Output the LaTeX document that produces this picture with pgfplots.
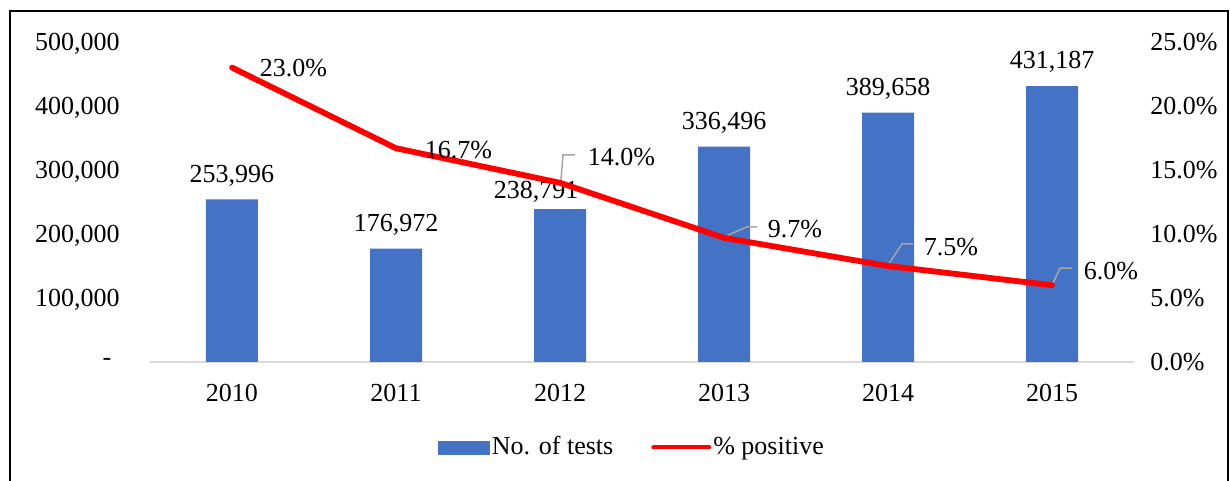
\documentclass[border=0pt]{standalone}
\usepackage{pgfplots}
\pgfplotsset{compat=1.18}
\usepackage{pgfplotstable}
\usepackage{fontspec}
\setmainfont{Liberation Serif}

\definecolor{barblue}{HTML}{4472C4}
\definecolor{axisgray}{HTML}{D9D9D9}
\definecolor{leadergray}{HTML}{A6A6A6}

% tests per year, label shifts in pt
\pgfplotstableread{
x tests lx ly
0 253996 0 8.7
1 176972 0 8.7
2 238791 -12 5.5
3 336496 0 8.7
4 389658 0 8.7
5 431187 0 8.7
}\tests

% percent positive, label shifts in pt
\pgfplotstableread{
x pos lx ly
0 23.0 12.5 0
1 16.7 13 -1
2 14.0 12.5 13
3 9.7 20.5 4.5
4 7.5 16.5 9.5
5 6.0 14.5 7
}\positive

\begin{document}
\fontsize{13}{15}\selectfont
\begin{tikzpicture}
\useasboundingbox (-75pt,-59.5pt) rectangle (540pt,181pt);
\draw[line width=0.75pt] (-70pt,-60pt) -- (-70pt,175.5pt) -- (539pt,175.5pt) -- (539pt,-60pt);

\begin{axis}[
    scale only axis,
    width=492pt, height=160pt,
    xmin=-0.5, xmax=5.5,
    ymin=0, ymax=500000,
    axis lines*=left,
    x axis line style={axisgray, line width=0.75pt},
    y axis line style={draw=none},
    tick style={draw=none}, major tick length=0pt,
    xtick={0,...,5},
    xticklabels={2010,2011,2012,2013,2014,2015},
    ytick={0,100000,200000,300000,400000,500000},
    yticklabels={\makebox[8.5pt][l]{-},{100,000},{200,000},{300,000},{400,000},{500,000}},
    scaled y ticks=false,
    xticklabel style={anchor=north, inner sep=0pt, yshift=-11pt},
    yticklabel style={anchor=east, inner sep=0pt, text depth=0pt, xshift=-15pt},
    clip=false,
]
\addplot[ybar, bar width=26pt, fill=barblue, draw=none,
    nodes near coords={\pgfmathprintnumber[fixed,precision=0,1000 sep={,},assume math mode=true]{\pgfplotspointmeta}},
    visualization depends on={\thisrow{lx} \as \lx},
    visualization depends on={\thisrow{ly} \as \ly},
    nodes near coords style={anchor=base, xshift=\lx pt, yshift=\ly pt, black},
] table[x=x, y=tests] {\tests};
\end{axis}

\begin{axis}[
    scale only axis,
    width=492pt, height=160pt,
    xmin=-0.5, xmax=5.5,
    ymin=0, ymax=25,
    axis x line=none,
    axis y line*=right,
    y axis line style={draw=none},
    tick style={draw=none}, major tick length=0pt,
    ytick={0,5,10,15,20,25},
    yticklabels={0.0\%,5.0\%,10.0\%,15.0\%,20.0\%,25.0\%},
    yticklabel style={anchor=west, inner sep=0pt, text depth=0pt, xshift=8pt},
    clip=false,
    legend columns=2,
    legend cell align=left,
    legend style={at={(0.4888,-0.267)}, anchor=center, draw=none, fill=none,
        inner sep=0pt, nodes={inner sep=0pt},
        /tikz/every odd column/.append style={column sep=1pt},
        /tikz/every even column/.append style={column sep=19pt}},
]
\addlegendimage{legend image code/.code={\fill[barblue] (0pt,-3.25pt) rectangle (25.5pt,3.25pt);}}
\addlegendentry{No. of tests}

% leader lines
\draw[leadergray, line width=0.75pt] (axis cs:2,14) ++(0.5pt,1.5pt) -- ++(1pt,12.5pt) -- ++(6pt,0pt);
\draw[leadergray, line width=0.75pt] (axis cs:3,9.7) ++(0pt,0.5pt) -- ++(11.5pt,5pt) -- ++(5pt,0pt);
\draw[leadergray, line width=0.75pt] (axis cs:4,7.5) ++(0pt,0.5pt) -- ++(7pt,10.5pt) -- ++(5.5pt,0pt);
\draw[leadergray, line width=0.75pt] (axis cs:5,6.0) -- ++(4pt,8.5pt) -- ++(6pt,0pt);

\addplot[red, line width=2.9pt, line join=round, line cap=round, mark=none,
    legend image code/.code={\draw[red, line width=2pt] (0pt,0pt) -- (28pt,0pt);},
    nodes near coords={\pgfmathprintnumber[fixed,fixed zerofill,precision=1,assume math mode=true]{\pgfplotspointmeta}\%},
    visualization depends on={\thisrow{lx} \as \lx},
    visualization depends on={\thisrow{ly} \as \ly},
    nodes near coords style={anchor=west, inner sep=0pt, text depth=0pt, xshift=\lx pt, yshift=\ly pt, black},
] table[x=x, y=pos] {\positive};
\addlegendentry{\% positive}
\end{axis}
\end{tikzpicture}
\end{document}
